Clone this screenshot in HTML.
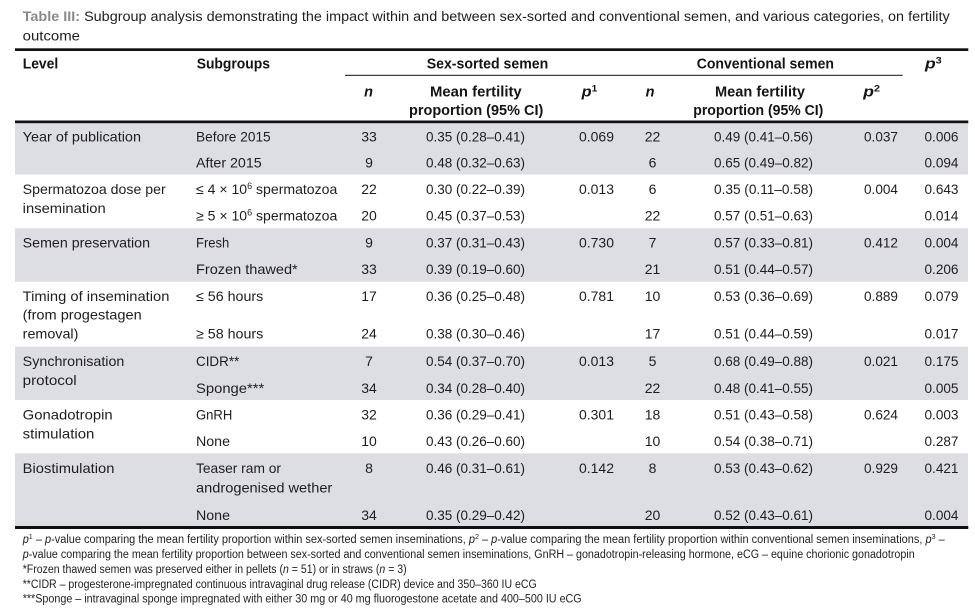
<!DOCTYPE html>
<html>
<head>
<meta charset="utf-8">
<style>
  html,body{margin:0;padding:0;background:#fff;}
  svg{display:block;}
  text{font-family:"Liberation Sans",Arial,sans-serif;fill:#1e1e1e;}
  .b{font-weight:bold;}
  .t{font-size:14px;}
  .h{font-size:14.5px;font-weight:bold;fill:#141414;}
  .f{font-size:11.5px;}
  .num{font-size:14px;}
</style>
</head>
<body>
<svg width="975" height="614" viewBox="0 0 975 614" xmlns="http://www.w3.org/2000/svg">
  <rect x="0" y="0" width="975" height="614" fill="#ffffff"/>

  <!-- Title -->
  <text x="22.7" y="21" font-size="13.5" textLength="927" lengthAdjust="spacingAndGlyphs"><tspan font-weight="bold" fill="#8a8a8a">Table III:</tspan> Subgroup analysis demonstrating the impact within and between sex-sorted and conventional semen, and various categories, on fertility</text>
  <text x="22.7" y="40.7" font-size="13.5" textLength="57.3" lengthAdjust="spacingAndGlyphs">outcome</text>

  <!-- Bands -->
  <rect x="15" y="123" width="953" height="51.5" fill="#dddde4"/>
  <rect x="15" y="228.3" width="953" height="53.4" fill="#dddde4"/>
  <rect x="15" y="346.7" width="953" height="53.3" fill="#dddde4"/>
  <rect x="15" y="453.3" width="953" height="72.7" fill="#dddde4"/>

  <!-- Rules -->
  <rect x="15" y="48.3" width="953.3" height="2.7" fill="#111"/>
  <rect x="345" y="74.8" width="557.7" height="1" fill="#111"/>
  <rect x="15" y="120.5" width="953.3" height="2.7" fill="#111"/>
  <rect x="15" y="526" width="953.3" height="3" fill="#111"/>

  <!-- Header row 1 -->
  <text class="h" x="22.7" y="68.3" textLength="35.6" lengthAdjust="spacingAndGlyphs">Level</text>
  <text class="h" x="196.7" y="68.3" textLength="73.3" lengthAdjust="spacingAndGlyphs">Subgroups</text>
  <text class="h" x="426.7" y="68.3" textLength="121.6" lengthAdjust="spacingAndGlyphs">Sex-sorted semen</text>
  <text class="h" x="696.7" y="68.3" textLength="137.3" lengthAdjust="spacingAndGlyphs">Conventional semen</text>
  <text class="h" x="925" y="68.3" textLength="16.7" lengthAdjust="spacingAndGlyphs"><tspan font-style="italic">p</tspan><tspan font-size="9" baseline-shift="super">3</tspan></text>

  <!-- Header row 2 -->
  <text class="h" x="368.5" y="96.7" text-anchor="middle" font-style="italic">n</text>
  <text class="h" x="430" y="96.7" textLength="91.7" lengthAdjust="spacingAndGlyphs">Mean fertility</text>
  <text class="h" x="409" y="115" textLength="134.3" lengthAdjust="spacingAndGlyphs">proportion (95% CI)</text>
  <text class="h" x="581.7" y="96.7" textLength="15.6" lengthAdjust="spacingAndGlyphs"><tspan font-style="italic">p</tspan><tspan font-size="9" baseline-shift="super">1</tspan></text>
  <text class="h" x="650" y="96.7" text-anchor="middle" font-style="italic">n</text>
  <text class="h" x="715" y="96.7" textLength="90" lengthAdjust="spacingAndGlyphs">Mean fertility</text>
  <text class="h" x="693.3" y="115" textLength="130" lengthAdjust="spacingAndGlyphs">proportion (95% CI)</text>
  <text class="h" x="863.3" y="96.7" textLength="16.7" lengthAdjust="spacingAndGlyphs"><tspan font-style="italic">p</tspan><tspan font-size="9" baseline-shift="super">2</tspan></text>

  <!-- Level column -->
  <g class="t">
    <text class="t" x="22.7" y="141.5" textLength="118.3" lengthAdjust="spacingAndGlyphs">Year of publication</text>
    <text class="t" x="22.7" y="194" textLength="143" lengthAdjust="spacingAndGlyphs">Spermatozoa dose per</text>
    <text class="t" x="22.7" y="213" textLength="83" lengthAdjust="spacingAndGlyphs">insemination</text>
    <text class="t" x="22.7" y="247.5" textLength="127.3" lengthAdjust="spacingAndGlyphs">Semen preservation</text>
    <text class="t" x="22.7" y="301" textLength="146.7" lengthAdjust="spacingAndGlyphs">Timing of insemination</text>
    <text class="t" x="22.7" y="319.5" textLength="119" lengthAdjust="spacingAndGlyphs">(from progestagen</text>
    <text class="t" x="22.7" y="338.5" textLength="55.7" lengthAdjust="spacingAndGlyphs">removal)</text>
    <text class="t" x="22.7" y="366" textLength="101.7" lengthAdjust="spacingAndGlyphs">Synchronisation</text>
    <text class="t" x="22.7" y="385" textLength="54" lengthAdjust="spacingAndGlyphs">protocol</text>
    <text class="t" x="22.7" y="419.5" textLength="90" lengthAdjust="spacingAndGlyphs">Gonadotropin</text>
    <text class="t" x="22.7" y="438.5" textLength="71.7" lengthAdjust="spacingAndGlyphs">stimulation</text>
    <text class="t" x="22.7" y="473" textLength="91.7" lengthAdjust="spacingAndGlyphs">Biostimulation</text>
  </g>

  <!-- Subgroups column -->
  <text class="t" x="196" y="141.5" textLength="74.7" lengthAdjust="spacingAndGlyphs">Before 2015</text>
  <text class="t" x="196" y="167.5" textLength="65.7" lengthAdjust="spacingAndGlyphs">After 2015</text>
  <text class="t" x="196" y="194" textLength="141.3" lengthAdjust="spacingAndGlyphs">≤ 4 × 10<tspan font-size="9" baseline-shift="super">6</tspan> spermatozoa</text>
  <text class="t" x="196" y="220.5" textLength="141.3" lengthAdjust="spacingAndGlyphs">≥ 5 × 10<tspan font-size="9" baseline-shift="super">6</tspan> spermatozoa</text>
  <text class="t" x="196" y="247.5" textLength="33.3" lengthAdjust="spacingAndGlyphs">Fresh</text>
  <text class="t" x="196" y="274" textLength="101.7" lengthAdjust="spacingAndGlyphs">Frozen thawed*</text>
  <text class="t" x="196" y="301" textLength="67.3" lengthAdjust="spacingAndGlyphs">≤ 56 hours</text>
  <text class="t" x="196" y="338.5" textLength="67.3" lengthAdjust="spacingAndGlyphs">≥ 58 hours</text>
  <text class="t" x="196" y="366" textLength="43.3" lengthAdjust="spacingAndGlyphs">CIDR**</text>
  <text class="t" x="196" y="393" textLength="68.3" lengthAdjust="spacingAndGlyphs">Sponge***</text>
  <text class="t" x="196" y="419.5" textLength="36.3" lengthAdjust="spacingAndGlyphs">GnRH</text>
  <text class="t" x="196" y="446" textLength="34" lengthAdjust="spacingAndGlyphs">None</text>
  <text class="t" x="196" y="473" textLength="85" lengthAdjust="spacingAndGlyphs">Teaser ram or</text>
  <text class="t" x="196" y="492.3" textLength="136.3" lengthAdjust="spacingAndGlyphs">androgenised wether</text>
  <text class="t" x="196" y="520" textLength="34" lengthAdjust="spacingAndGlyphs">None</text>

  <!-- Sex-sorted n -->
  <g class="num" text-anchor="middle">
    <text class="num" x="369" y="141.5">33</text>
    <text class="num" x="369" y="167.5">9</text>
    <text class="num" x="369" y="194">22</text>
    <text class="num" x="369" y="220.5">20</text>
    <text class="num" x="369" y="247.5">9</text>
    <text class="num" x="369" y="274">33</text>
    <text class="num" x="369" y="301">17</text>
    <text class="num" x="369" y="338.5">24</text>
    <text class="num" x="369" y="366">7</text>
    <text class="num" x="369" y="393">34</text>
    <text class="num" x="369" y="419.5">32</text>
    <text class="num" x="369" y="446">10</text>
    <text class="num" x="369" y="473">8</text>
    <text class="num" x="369" y="520">34</text>
  </g>

  <!-- Sex-sorted mean -->
  <text class="num" x="426" y="141.5" textLength="99" lengthAdjust="spacingAndGlyphs">0.35 (0.28–0.41)</text>
  <text class="num" x="426" y="167.5" textLength="99" lengthAdjust="spacingAndGlyphs">0.48 (0.32–0.63)</text>
  <text class="num" x="426" y="194" textLength="99" lengthAdjust="spacingAndGlyphs">0.30 (0.22–0.39)</text>
  <text class="num" x="426" y="220.5" textLength="99" lengthAdjust="spacingAndGlyphs">0.45 (0.37–0.53)</text>
  <text class="num" x="426" y="247.5" textLength="99" lengthAdjust="spacingAndGlyphs">0.37 (0.31–0.43)</text>
  <text class="num" x="426" y="274" textLength="99" lengthAdjust="spacingAndGlyphs">0.39 (0.19–0.60)</text>
  <text class="num" x="426" y="301" textLength="99" lengthAdjust="spacingAndGlyphs">0.36 (0.25–0.48)</text>
  <text class="num" x="426" y="338.5" textLength="99" lengthAdjust="spacingAndGlyphs">0.38 (0.30–0.46)</text>
  <text class="num" x="426" y="366" textLength="99" lengthAdjust="spacingAndGlyphs">0.54 (0.37–0.70)</text>
  <text class="num" x="426" y="393" textLength="99" lengthAdjust="spacingAndGlyphs">0.34 (0.28–0.40)</text>
  <text class="num" x="426" y="419.5" textLength="99" lengthAdjust="spacingAndGlyphs">0.36 (0.29–0.41)</text>
  <text class="num" x="426" y="446" textLength="99" lengthAdjust="spacingAndGlyphs">0.43 (0.26–0.60)</text>
  <text class="num" x="426" y="473" textLength="99" lengthAdjust="spacingAndGlyphs">0.46 (0.31–0.61)</text>
  <text class="num" x="426" y="520" textLength="99" lengthAdjust="spacingAndGlyphs">0.35 (0.29–0.42)</text>

  <!-- p1 -->
  <text class="num" x="579" y="141.5" textLength="35" lengthAdjust="spacingAndGlyphs">0.069</text>
  <text class="num" x="579" y="194" textLength="35" lengthAdjust="spacingAndGlyphs">0.013</text>
  <text class="num" x="579" y="247.5" textLength="35" lengthAdjust="spacingAndGlyphs">0.730</text>
  <text class="num" x="579" y="301" textLength="35" lengthAdjust="spacingAndGlyphs">0.781</text>
  <text class="num" x="579" y="366" textLength="35" lengthAdjust="spacingAndGlyphs">0.013</text>
  <text class="num" x="579" y="419.5" textLength="35" lengthAdjust="spacingAndGlyphs">0.301</text>
  <text class="num" x="579" y="473" textLength="35" lengthAdjust="spacingAndGlyphs">0.142</text>

  <!-- Conventional n -->
  <g text-anchor="middle">
    <text class="num" x="652.5" y="141.5">22</text>
    <text class="num" x="652.5" y="167.5">6</text>
    <text class="num" x="652.5" y="194">6</text>
    <text class="num" x="652.5" y="220.5">22</text>
    <text class="num" x="652.5" y="247.5">7</text>
    <text class="num" x="652.5" y="274">21</text>
    <text class="num" x="652.5" y="301">10</text>
    <text class="num" x="652.5" y="338.5">17</text>
    <text class="num" x="652.5" y="366">5</text>
    <text class="num" x="652.5" y="393">22</text>
    <text class="num" x="652.5" y="419.5">18</text>
    <text class="num" x="652.5" y="446">10</text>
    <text class="num" x="652.5" y="473">8</text>
    <text class="num" x="652.5" y="520">20</text>
  </g>

  <!-- Conventional mean -->
  <text class="num" x="714" y="141.5" textLength="99" lengthAdjust="spacingAndGlyphs">0.49 (0.41–0.56)</text>
  <text class="num" x="714" y="167.5" textLength="99" lengthAdjust="spacingAndGlyphs">0.65 (0.49–0.82)</text>
  <text class="num" x="714" y="194" textLength="99" lengthAdjust="spacingAndGlyphs">0.35 (0.11–0.58)</text>
  <text class="num" x="714" y="220.5" textLength="99" lengthAdjust="spacingAndGlyphs">0.57 (0.51–0.63)</text>
  <text class="num" x="714" y="247.5" textLength="99" lengthAdjust="spacingAndGlyphs">0.57 (0.33–0.81)</text>
  <text class="num" x="714" y="274" textLength="99" lengthAdjust="spacingAndGlyphs">0.51 (0.44–0.57)</text>
  <text class="num" x="714" y="301" textLength="99" lengthAdjust="spacingAndGlyphs">0.53 (0.36–0.69)</text>
  <text class="num" x="714" y="338.5" textLength="99" lengthAdjust="spacingAndGlyphs">0.51 (0.44–0.59)</text>
  <text class="num" x="714" y="366" textLength="99" lengthAdjust="spacingAndGlyphs">0.68 (0.49–0.88)</text>
  <text class="num" x="714" y="393" textLength="99" lengthAdjust="spacingAndGlyphs">0.48 (0.41–0.55)</text>
  <text class="num" x="714" y="419.5" textLength="99" lengthAdjust="spacingAndGlyphs">0.51 (0.43–0.58)</text>
  <text class="num" x="714" y="446" textLength="99" lengthAdjust="spacingAndGlyphs">0.54 (0.38–0.71)</text>
  <text class="num" x="714" y="473" textLength="99" lengthAdjust="spacingAndGlyphs">0.53 (0.43–0.62)</text>
  <text class="num" x="714" y="520" textLength="99" lengthAdjust="spacingAndGlyphs">0.52 (0.43–0.61)</text>

  <!-- p2 -->
  <text class="num" x="864" y="141.5" textLength="34" lengthAdjust="spacingAndGlyphs">0.037</text>
  <text class="num" x="864" y="194" textLength="34" lengthAdjust="spacingAndGlyphs">0.004</text>
  <text class="num" x="864" y="247.5" textLength="34" lengthAdjust="spacingAndGlyphs">0.412</text>
  <text class="num" x="864" y="301" textLength="34" lengthAdjust="spacingAndGlyphs">0.889</text>
  <text class="num" x="864" y="366" textLength="34" lengthAdjust="spacingAndGlyphs">0.021</text>
  <text class="num" x="864" y="419.5" textLength="34" lengthAdjust="spacingAndGlyphs">0.624</text>
  <text class="num" x="864" y="473" textLength="34" lengthAdjust="spacingAndGlyphs">0.929</text>

  <!-- p3 -->
  <text class="num" x="924.5" y="141.5" textLength="34" lengthAdjust="spacingAndGlyphs">0.006</text>
  <text class="num" x="924.5" y="167.5" textLength="34" lengthAdjust="spacingAndGlyphs">0.094</text>
  <text class="num" x="924.5" y="194" textLength="34" lengthAdjust="spacingAndGlyphs">0.643</text>
  <text class="num" x="924.5" y="220.5" textLength="34" lengthAdjust="spacingAndGlyphs">0.014</text>
  <text class="num" x="924.5" y="247.5" textLength="34" lengthAdjust="spacingAndGlyphs">0.004</text>
  <text class="num" x="924.5" y="274" textLength="34" lengthAdjust="spacingAndGlyphs">0.206</text>
  <text class="num" x="924.5" y="301" textLength="34" lengthAdjust="spacingAndGlyphs">0.079</text>
  <text class="num" x="924.5" y="338.5" textLength="34" lengthAdjust="spacingAndGlyphs">0.017</text>
  <text class="num" x="924.5" y="366" textLength="34" lengthAdjust="spacingAndGlyphs">0.175</text>
  <text class="num" x="924.5" y="393" textLength="34" lengthAdjust="spacingAndGlyphs">0.005</text>
  <text class="num" x="924.5" y="419.5" textLength="34" lengthAdjust="spacingAndGlyphs">0.003</text>
  <text class="num" x="924.5" y="446" textLength="34" lengthAdjust="spacingAndGlyphs">0.287</text>
  <text class="num" x="924.5" y="473" textLength="34" lengthAdjust="spacingAndGlyphs">0.421</text>
  <text class="num" x="924.5" y="520" textLength="34" lengthAdjust="spacingAndGlyphs">0.004</text>

  <!-- Footnotes -->
  <text class="f" x="22.7" y="543" textLength="922" lengthAdjust="spacingAndGlyphs"><tspan font-style="italic">p</tspan><tspan font-size="7.5" baseline-shift="super">1</tspan> – <tspan font-style="italic">p</tspan>-value comparing the mean fertility proportion within sex-sorted semen inseminations, <tspan font-style="italic">p</tspan><tspan font-size="7.5" baseline-shift="super">2</tspan> – <tspan font-style="italic">p</tspan>-value comparing the mean fertility proportion within conventional semen inseminations, <tspan font-style="italic">p</tspan><tspan font-size="7.5" baseline-shift="super">3</tspan> –</text>
  <text class="f" x="22.7" y="558" textLength="892" lengthAdjust="spacingAndGlyphs"><tspan font-style="italic">p</tspan>-value comparing the mean fertility proportion between sex-sorted and conventional semen inseminations, GnRH – gonadotropin-releasing hormone, eCG – equine chorionic gonadotropin</text>
  <text class="f" x="22.7" y="573" textLength="384" lengthAdjust="spacingAndGlyphs">*Frozen thawed semen was preserved either in pellets (<tspan font-style="italic">n</tspan> = 51) or in straws (<tspan font-style="italic">n</tspan> = 3)</text>
  <text class="f" x="22.7" y="588" textLength="514" lengthAdjust="spacingAndGlyphs">**CIDR – progesterone-impregnated continuous intravaginal drug release (CIDR) device and 350–360 IU eCG</text>
  <text class="f" x="22.7" y="602.5" textLength="559" lengthAdjust="spacingAndGlyphs">***Sponge – intravaginal sponge impregnated with either 30 mg or 40 mg fluorogestone acetate and 400–500 IU eCG</text>
</svg>
</body>
</html>
